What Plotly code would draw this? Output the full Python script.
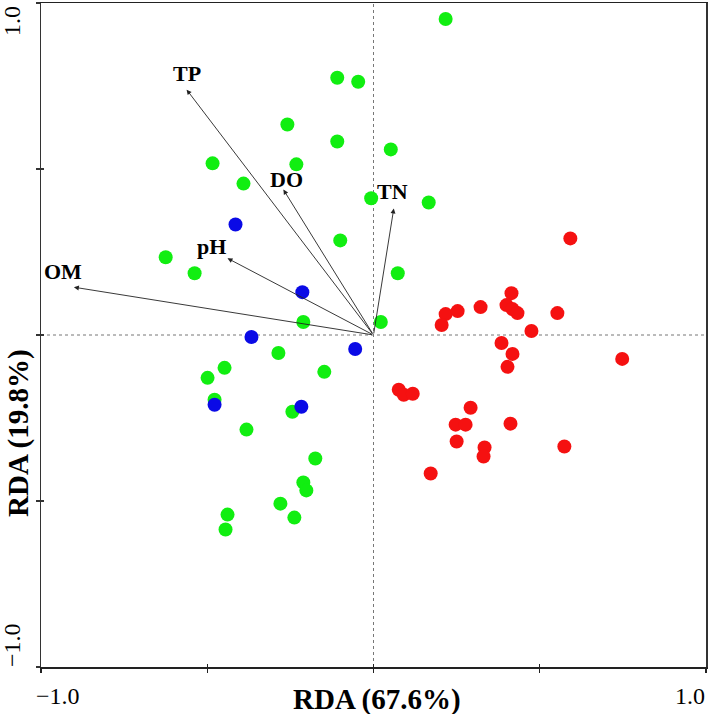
import plotly.graph_objects as go

# ---- data (RDA site scores) ----
green_x = [0.217, -0.109, -0.046, -0.259, -0.109, 0.052, -0.484, -0.232, -0.391, -0.007,
           0.166, -0.100, -0.625, -0.538, 0.073, -0.211, 0.022, -0.286, -0.448, -0.499,
           -0.148, -0.478, -0.244, -0.382, -0.175, -0.211, -0.202, -0.280, -0.238, -0.439, -0.445]
green_y = [0.952, 0.775, 0.763, 0.634, 0.583, 0.559, 0.517, 0.514, 0.456, 0.412,
           0.399, 0.285, 0.234, 0.186, 0.186, 0.039, 0.039, -0.054, -0.099, -0.129,
           -0.111, -0.195, -0.231, -0.285, -0.372, -0.444, -0.468, -0.508, -0.550, -0.541, -0.586]

blue_x = [-0.415, -0.214, -0.367, -0.055, -0.478, -0.217]
blue_y = [0.333, 0.129, -0.006, -0.042, -0.210, -0.216]

red_x = [0.592, 0.415, 0.217, 0.253, 0.322, 0.400, 0.418, 0.433, 0.553, 0.205,
         0.475, 0.385, 0.418, 0.403, 0.748, 0.076, 0.091, 0.118, 0.292, 0.247,
         0.277, 0.412, 0.250, 0.334, 0.331, 0.574, 0.172]
red_y = [0.291, 0.126, 0.063, 0.072, 0.084, 0.090, 0.078, 0.066, 0.066, 0.030,
         0.012, -0.024, -0.057, -0.096, -0.072, -0.165, -0.180, -0.177, -0.219, -0.270,
         -0.270, -0.267, -0.321, -0.339, -0.366, -0.336, -0.417]

# ---- environmental vectors ----
env_names = ["TP", "DO", "pH", "OM", "TN"]
env_x = [-0.562, -0.271, -0.439, -0.901, 0.061]
env_y = [0.739, 0.438, 0.231, 0.144, 0.381]
label_dx = [0, 3, -16, -11, -1]     # label offsets in px
label_dy = [16, 10, 12, 16, 17]

tick_vals = [-1.0, -0.5, 0.0, 0.5, 1.0]
x_title = "RDA (67.6%)"
y_title = "RDA (19.8%)"

SERIF = "Liberation Serif, Times New Roman, serif"

fig = go.Figure()
for xs, ys, col in [(green_x, green_y, "#11EE11"), (blue_x, blue_y, "#0A0AE6"), (red_x, red_y, "#F51111")]:
    fig.add_trace(go.Scatter(x=xs, y=ys, mode="markers",
                             marker=dict(size=14, color=col, line=dict(width=0)),
                             showlegend=False, hoverinfo="skip"))

# invisible trace for the overlay axes (inner ticks)
fig.add_trace(go.Scatter(x=[0], y=[0], xaxis="x2", yaxis="y2", mode="markers",
                         marker=dict(size=1, opacity=0), showlegend=False, hoverinfo="skip"))

# zero lines
fig.add_shape(type="line", xref="x", yref="paper", x0=0, x1=0, y0=0, y1=1,
              line=dict(color="#777777", width=1, dash="dot"), layer="below")
fig.add_shape(type="line", xref="paper", yref="y", x0=0, x1=1, y0=0, y1=0,
              line=dict(color="#777777", width=1, dash="dot"), layer="below")

annotations = []
for name, ex, ey, dx, dy in zip(env_names, env_x, env_y, label_dx, label_dy):
    annotations.append(dict(x=ex, y=ey, ax=0, ay=0, xref="x", yref="y", axref="x", ayref="y",
                            text="", showarrow=True, arrowhead=2, arrowsize=1.1, arrowwidth=0.9,
                            arrowcolor="#222222", standoff=0, startstandoff=0))
    annotations.append(dict(x=ex, y=ey, xref="x", yref="y", text="<b>%s</b>" % name,
                            showarrow=False, xshift=dx, yshift=dy,
                            font=dict(family=SERIF, size=22, color="black")))

# tick labels (only the ends are labelled)
annotations += [
    dict(x=tick_vals[0], y=0, xref="x", yref="paper", text="\u22121.0", showarrow=False,
         xanchor="center", yanchor="middle", xshift=17, yshift=-29,
         font=dict(family=SERIF, size=24, color="black")),
    dict(x=tick_vals[-1], y=0, xref="x", yref="paper", text="1.0", showarrow=False,
         xanchor="center", yanchor="middle", xshift=-16, yshift=-29,
         font=dict(family=SERIF, size=24, color="black")),
    dict(x=0, y=tick_vals[-1], xref="paper", yref="y", text="1.0", showarrow=False,
         xanchor="center", yanchor="middle", xshift=-29, yshift=-18, textangle=-90,
         font=dict(family=SERIF, size=24, color="black")),
    dict(x=0, y=tick_vals[0], xref="paper", yref="y", text="\u22121.0", showarrow=False,
         xanchor="center", yanchor="middle", xshift=-29, yshift=22, textangle=-90,
         font=dict(family=SERIF, size=24, color="black")),
    dict(x=0, y=-0.0, xref="x", yref="paper", text="<b>%s</b>" % x_title, showarrow=False,
         xanchor="center", yanchor="middle", yshift=-32, xshift=3,
         font=dict(family=SERIF, size=29, color="black")),
    dict(x=0, y=0, xref="paper", yref="y", text="<b>%s</b>" % y_title, showarrow=False,
         xanchor="center", yanchor="middle", xshift=-23, yshift=-98, textangle=-90,
         font=dict(family=SERIF, size=29, color="black")),
]

axis_common = dict(range=[-1, 1], tickmode="array", tickvals=tick_vals, showticklabels=False,
                   showgrid=False, zeroline=False, fixedrange=True)

fig.update_layout(
    width=709, height=714,
    margin=dict(l=41, r=1, t=1, b=47),
    paper_bgcolor="white", plot_bgcolor="white",
    xaxis=dict(**axis_common, showline=True, mirror=True, linecolor="#222222", linewidth=1.5,
               ticks="outside", ticklen=4, tickwidth=1.2, tickcolor="#222222"),
    yaxis=dict(**axis_common, showline=True, mirror=True, linecolor="#333333", linewidth=1.5,
               ticks="outside", ticklen=4, tickwidth=1.2, tickcolor="#333333"),
    xaxis2=dict(**axis_common, overlaying="x", anchor="y", side="bottom", showline=False,
                ticks="inside", ticklen=3, tickwidth=1.2, tickcolor="#222222"),
    yaxis2=dict(**axis_common, overlaying="y", anchor="x", side="left", showline=False,
                ticks="inside", ticklen=3, tickwidth=1.2, tickcolor="#333333"),
    annotations=annotations,
    showlegend=False,
)

fig.write_html("out.html", config={"displayModeBar": False, "staticPlot": True},
               post_script="document.body.style.margin='0px';document.body.style.overflow='hidden';")
